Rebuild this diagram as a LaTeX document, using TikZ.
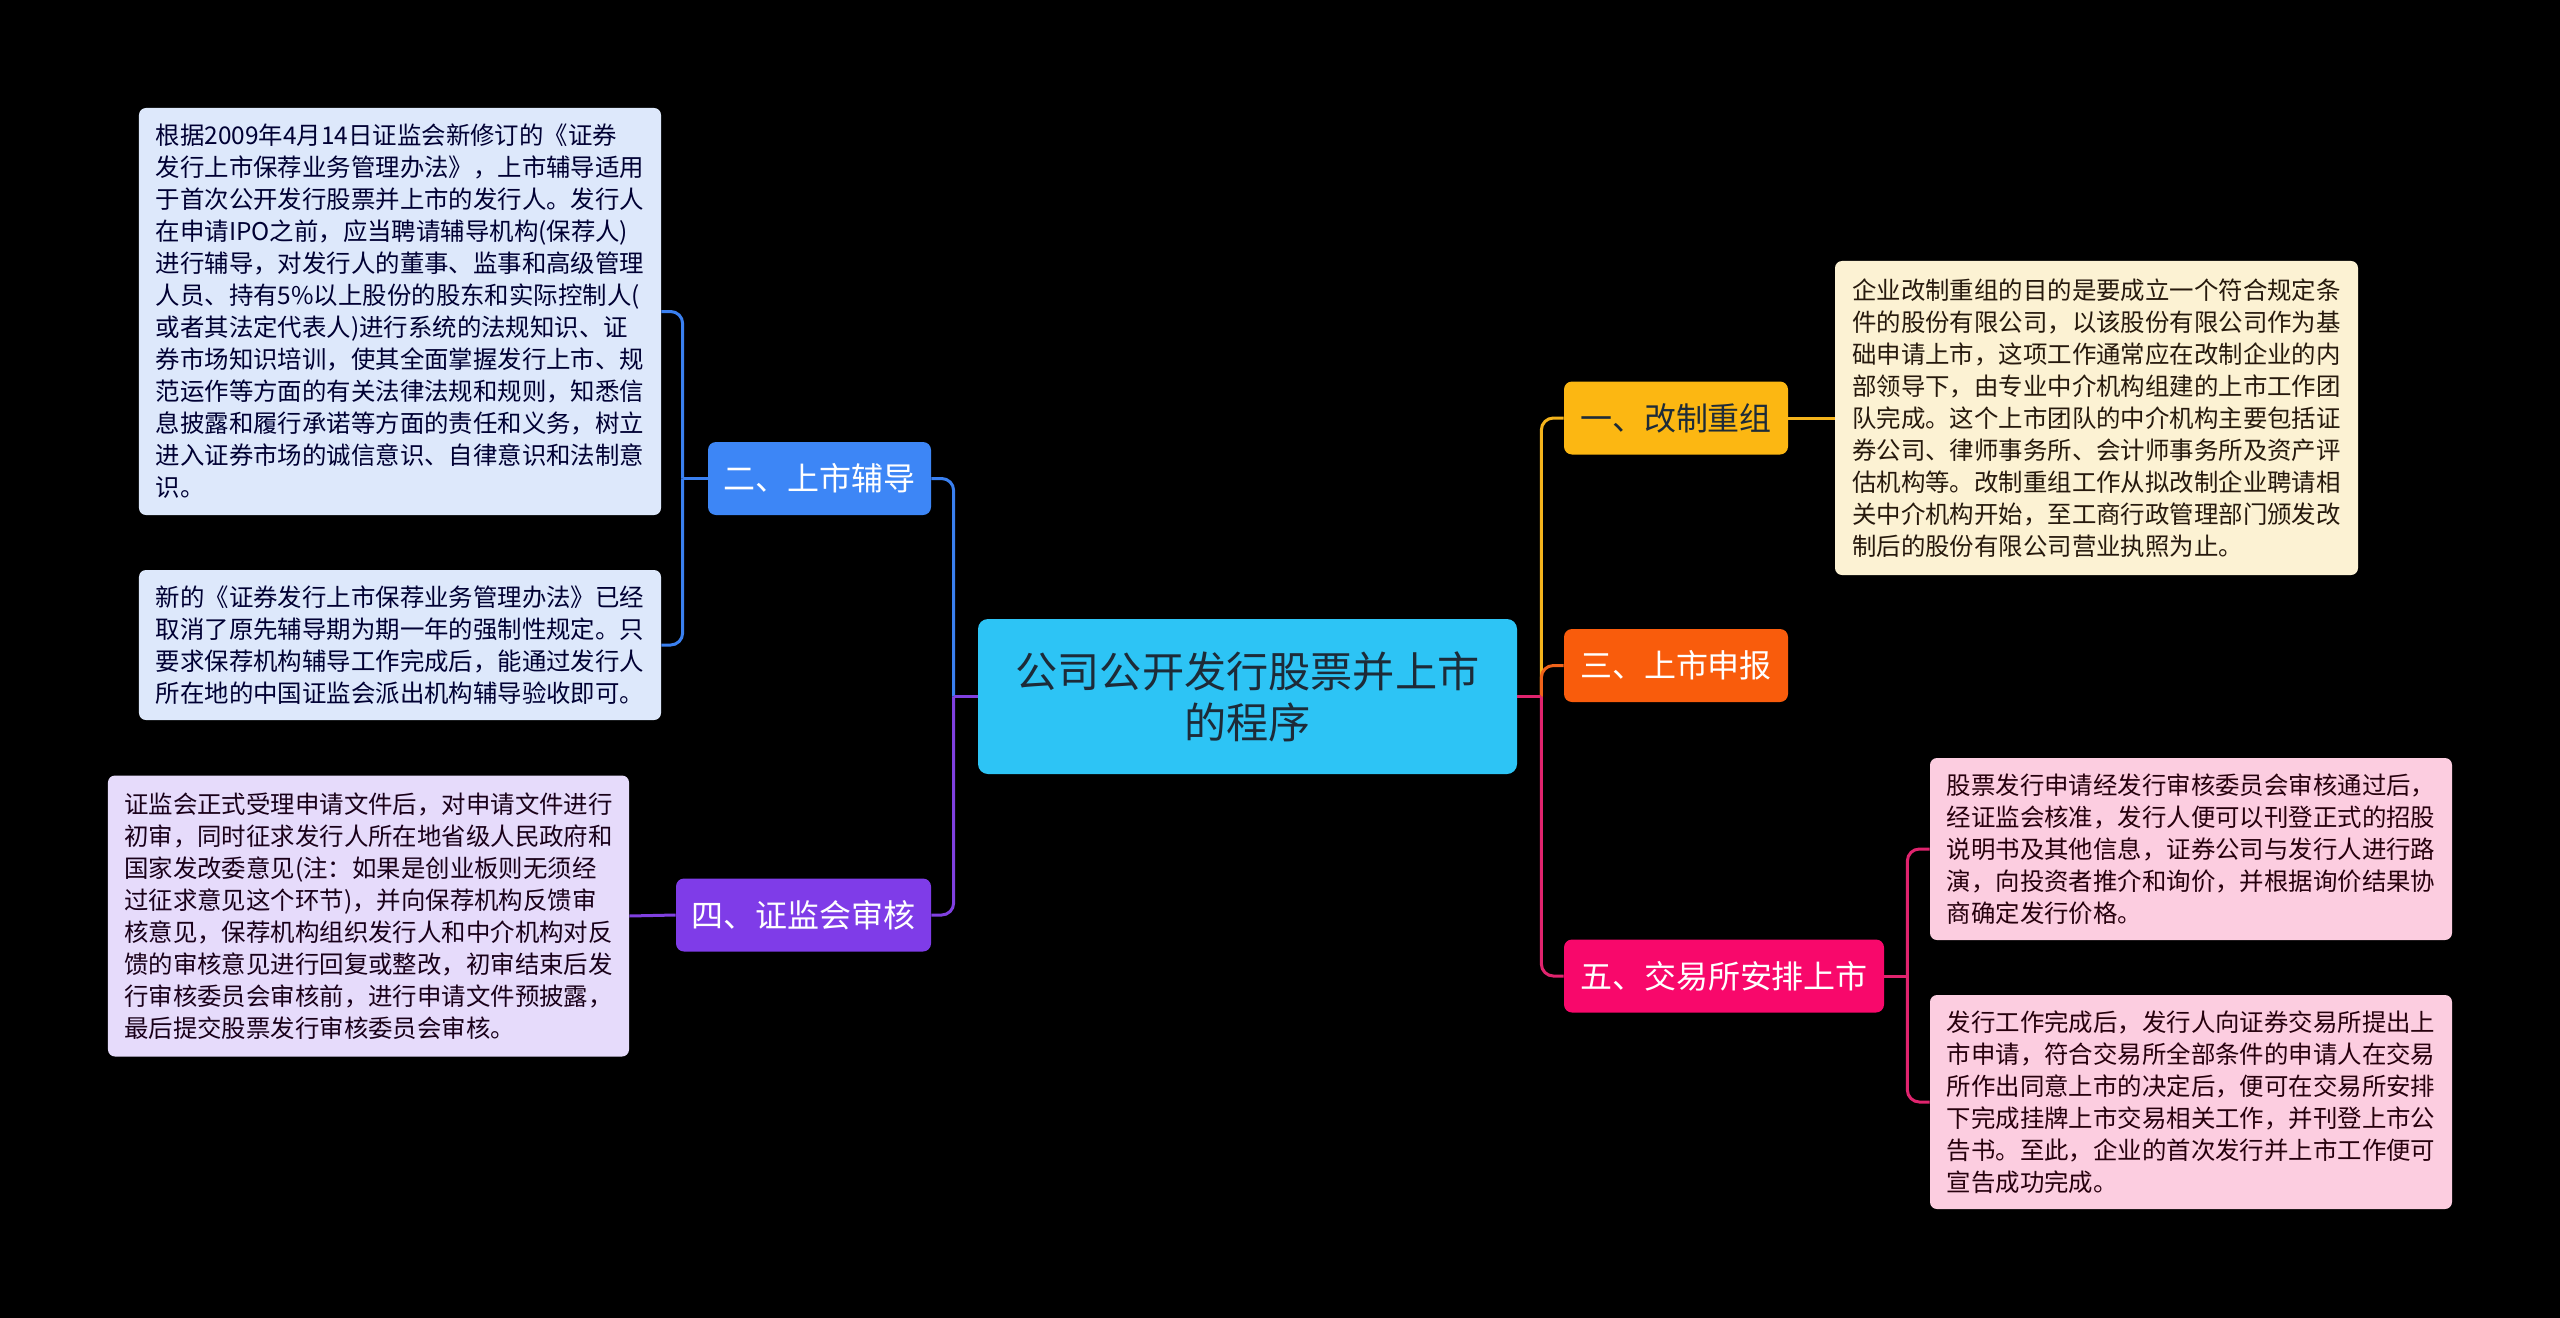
\documentclass[tikz,border=0pt]{standalone}
\usepackage{fontspec}
\setmainfont{Noto Sans CJK SC}
\usepackage{tikz}
\definecolor{rootfill}{HTML}{2DC4F5}
\definecolor{roottext}{HTML}{1D2B38}
\definecolor{yfill}{HTML}{FCB712}
\definecolor{ofill}{HTML}{F95C0C}
\definecolor{pfill}{HTML}{F8086B}
\definecolor{bfill}{HTML}{3D86F6}
\definecolor{vfill}{HTML}{7F3CE8}
\definecolor{yline}{HTML}{F5B41C}
\definecolor{oline}{HTML}{F0631A}
\definecolor{pline}{HTML}{E0246E}
\definecolor{bline}{HTML}{3A80F0}
\definecolor{vline}{HTML}{8040E0}
\definecolor{bleaf}{HTML}{DDE8FB}
\definecolor{vleaf}{HTML}{E6DBFB}
\definecolor{yleaf}{HTML}{FCF2D3}
\definecolor{pleaf}{HTML}{FCCDE0}
\tikzset{
  topic/.style={rounded corners=1.6mm, inner sep=0pt, minimum height=14.6mm,
    font=\fontsize{18.2pt}{22pt}\selectfont, text=white},
  leaf/.style={rounded corners=1.4mm, inner xsep=2mm, inner ysep=0pt, minimum width=104.4mm,
    align=left, font=\fontsize{13.9pt}{18.2pt}\selectfont},
  link/.style={line width=0.6mm, rounded corners=2.4mm}
}
\begin{document}
\begin{tikzpicture}[x=0.2mm, y=-0.2mm]
\fill[black] (0,0) rectangle (2560,1318);

\node[fill=rootfill, text=roottext, rounded corners=2mm, minimum width=107.8mm, minimum height=31mm,
  align=center, font=\fontsize{24pt}{29pt}\selectfont] (root) at (1247.5,696.5)
  {公司公开发行股票并上市\\的程序};

\node[topic, fill=yfill, text=roottext, minimum width=44.8mm] (gaizhi) at (1676,418) {一、改制重组};
\node[topic, fill=ofill, minimum width=44.8mm] (shenbao) at (1676,665.5) {三、上市申报};
\node[topic, fill=pfill, minimum width=64mm] (jiaoyi) at (1724,976) {五、交易所安排上市};
\node[topic, fill=bfill, minimum width=44.6mm] (fudao) at (819.5,478.5) {二、上市辅导};
\node[topic, fill=vfill, minimum width=51mm] (shenhe) at (803.5,915) {四、证监会审核};

\node[leaf, fill=bleaf, text=black!80!blue, minimum height=81.4mm] (fudaoTextA) at (400,311.5)
  {根据2009年4月14日证监会新修订的《证券\\发行上市保荐业务管理办法》，上市辅导适用\\于首次公开发行股票并上市的发行人。发行人\\在申请IPO之前，应当聘请辅导机构(保荐人)\\进行辅导，对发行人的董事、监事和高级管理\\人员、持有5\%以上股份的股东和实际控制人(\\或者其法定代表人)进行系统的法规知识、证\\券市场知识培训，使其全面掌握发行上市、规\\范运作等方面的有关法律法规和规则，知悉信\\息披露和履行承诺等方面的责任和义务，树立\\进入证券市场的诚信意识、自律意识和法制意\\识。};
\node[leaf, fill=bleaf, text=black!80!blue, minimum height=30mm] (fudaoTextB) at (400,645)
  {新的《证券发行上市保荐业务管理办法》已经\\取消了原先辅导期为期一年的强制性规定。只\\要求保荐机构辅导工作完成后，能通过发行人\\所在地的中国证监会派出机构辅导验收即可。};
\node[leaf, fill=vleaf, text=black!80!violet, minimum width=104.2mm, minimum height=56.2mm] (shenheText) at (368.5,916)
  {证监会正式受理申请文件后，对申请文件进行\\初审，同时征求发行人所在地省级人民政府和\\国家发改委意见(注：如果是创业板则无须经\\过征求意见这个环节)，并向保荐机构反馈审\\核意见，保荐机构组织发行人和中介机构对反\\馈的审核意见进行回复或整改，初审结束后发\\行审核委员会审核前，进行申请文件预披露，\\最后提交股票发行审核委员会审核。};
\node[leaf, fill=yleaf, text=black!80!brown, minimum width=104.6mm, minimum height=62.8mm] (gaizhiText) at (2096.5,418)
  {企业改制重组的目的是要成立一个符合规定条\\件的股份有限公司，以该股份有限公司作为基\\础申请上市，这项工作通常应在改制企业的内\\部领导下，由专业中介机构组建的上市工作团\\队完成。这个上市团队的中介机构主要包括证\\券公司、律师事务所、会计师事务所及资产评\\估机构等。改制重组工作从拟改制企业聘请相\\关中介机构开始，至工商行政管理部门颁发改\\制后的股份有限公司营业执照为止。};
\node[leaf, fill=pleaf, text=black!80!purple, minimum height=36.4mm] (jiaoyiTextA) at (2191,849)
  {股票发行申请经发行审核委员会审核通过后，\\经证监会核准，发行人便可以刊登正式的招股\\说明书及其他信息，证券公司与发行人进行路\\演，向投资者推介和询价，并根据询价结果协\\商确定发行价格。};
\node[leaf, fill=pleaf, text=black!80!purple, minimum height=42.8mm] (jiaoyiTextB) at (2191,1102)
  {发行工作完成后，发行人向证券交易所提出上\\市申请，符合交易所全部条件的申请人在交易\\所作出同意上市的决定后，便可在交易所安排\\下完成挂牌上市交易相关工作，并刊登上市公\\告书。至此，企业的首次发行并上市工作便可\\宣告成功完成。};

\coordinate (rj) at ([xshift=4.8mm]root.east);
\coordinate (lj) at ([xshift=-4.8mm]root.west);
\coordinate (fj) at ([xshift=-5mm]fudao.west);
\coordinate (jj) at ([xshift=4.6mm]jiaoyi.east);

\draw[link, yline] (rj) |- (gaizhi.west);
\draw[link, oline] (rj) |- (shenbao.west);
\draw[link, pline] (rj) |- (jiaoyi.west);
\draw[link, pline] (root.east) -- (rj);
\draw[link, bline] (lj) |- (fudao.east);
\draw[link, vline] (lj) |- (shenhe.east);
\draw[link, vline] (root.west) -- (lj);

\draw[link, yline] (gaizhi.east) -- (gaizhiText.west);
\draw[link, bline] (fudao.west) -- (fj);
\draw[link, bline] (fj) |- (fudaoTextA.east);
\draw[link, bline] (fj) |- (fudaoTextB.east);
\draw[link, vline] (shenhe.west) -- (shenheText.east);
\draw[link, pline] (jiaoyi.east) -- (jj);
\draw[link, pline] (jj) |- (jiaoyiTextA.west);
\draw[link, pline] (jj) |- (jiaoyiTextB.west);
\end{tikzpicture}
\end{document}
